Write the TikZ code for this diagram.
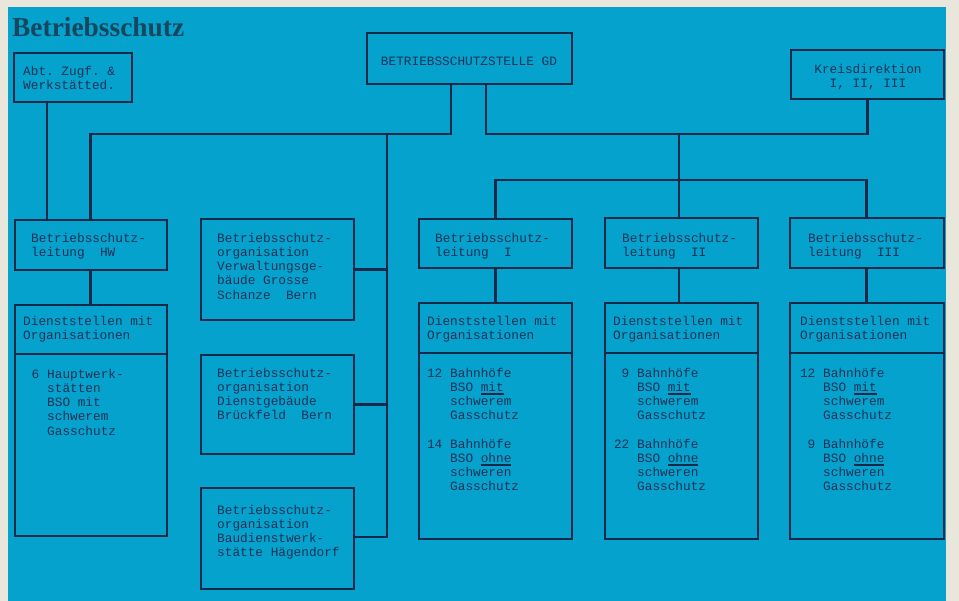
\documentclass[tikz,border=0pt]{standalone}
\usepackage{fontspec}
\newfontfamily\tw{Liberation Mono}
\newfontfamily\ttl{Liberation Serif}
\definecolor{bg}{HTML}{05A2CD}
\definecolor{paper}{HTML}{E9E6DC}
\definecolor{ln}{HTML}{172848}
\definecolor{tx}{HTML}{1A3256}
\definecolor{titlec}{HTML}{17475E}
\newcommand\myul[1]{\setbox0\hbox{#1}\rlap{\color{ln}\rule[-3.2bp]{\wd0}{1.3bp}}\box0}
\begin{document}
\begin{tikzpicture}[x=1bp,y=-1bp,
  box/.style={draw=ln, line width=1.7bp, inner sep=0pt, anchor=north west},
  conn/.style={draw=ln, line width=2.8bp},
  thin/.style={draw=ln, line width=1.7bp},
  txt/.style={font=\tw\frenchspacing\fontsize{12.8}{14.25}\selectfont, text=tx, inner sep=0pt, align=left, anchor=base west},
  num/.style={font=\tw\fontsize{12.8}{14.25}\selectfont, text=tx, inner sep=0pt, anchor=base east}]
\useasboundingbox (0,0) rectangle (959,601);
\fill[paper] (0,0) rectangle (959,601);
\fill[bg] (8,7) rectangle (946,601);

\node[anchor=base west, inner sep=0pt, font=\ttl\bfseries\fontsize{27.5}{30}\selectfont, text=titlec] (title) at (12,37) {Betriebsschutz};

% top row (text nodes are placed at the baseline of their last line)
\node[box, minimum width=118bp, minimum height=49bp] (abt) at (13,52) {};
\node[txt] (abtT) at (23,89.25) {Abt. Zugf. \&\\Werkstätted.};
\node[box, minimum width=205bp, minimum height=51bp] (gd) at (366,32) {};
\node[txt, anchor=base] (gdT) at (469,66) {BETRIEBSSCHUTZSTELLE GD};
\node[box, minimum width=153bp, minimum height=49bp] (kreis) at (790,49) {};
\node[txt, align=center, anchor=base] (kreisT) at (868,87.25) {Kreisdirektion\\I, II, III};

% left column
\node[box, minimum width=152bp, minimum height=50bp] (mw) at (14,219) {};
\node[txt] (mwT) at (31,256.25) {Betriebsschutz-\\leitung~~HW};
\node[box, minimum width=152bp, minimum height=231bp] (dmw) at (14,304) {};
\draw[thin] (dmw.west |- 0,354) -- (dmw.east |- 0,354);
\node[txt] (dmwH) at (23,339.25) {Dienststellen mit\\Organisationen};
\node[num] (dmwN) at (39.5,378) {6};
\node[txt] (dmwC) at (47,435) {Hauptwerk-\\stätten\\BSO mit\\schwerem\\Gasschutz};

% middle column
\node[box, minimum width=153bp, minimum height=101bp] (verw) at (200,218) {};
\node[txt] (verwT) at (217,299) {Betriebsschutz-\\organisation\\Verwaltungsge-\\bäude Grosse\\Schanze~~Bern};
\node[box, minimum width=153bp, minimum height=99bp] (bru) at (200,354) {};
\node[txt] (bruT) at (217,419.75) {Betriebsschutz-\\organisation\\Dienstgebäude\\Brückfeld~~Bern};
\node[box, minimum width=153bp, minimum height=101bp] (hag) at (200,487) {};
\node[txt] (hagT) at (217,556.75) {Betriebsschutz-\\organisation\\Baudienstwerk-\\stätte Hägendorf};

% Leitung I, II, III
\node[box, minimum width=153bp, minimum height=49bp] (l1) at (418,218) {};
\node[txt] (l1T) at (435,256.25) {Betriebsschutz-\\leitung~~I};
\node[box, minimum width=153bp, minimum height=50bp] (l2) at (604,217) {};
\node[txt] (l2T) at (622,256.25) {Betriebsschutz-\\leitung~~II};
\node[box, minimum width=154bp, minimum height=50bp] (l3) at (789,217) {};
\node[txt] (l3T) at (808,256.25) {Betriebsschutz-\\leitung~~III};

% Dienststellen I, II, III
\node[box, minimum width=153bp, minimum height=236bp] (d1) at (418,302) {};
\node[box, minimum width=153bp, minimum height=236bp] (d2) at (604,302) {};
\node[box, minimum width=154bp, minimum height=236bp] (d3) at (789,302) {};
\draw[thin] (d1.west |- 0,353) -- (d1.east |- 0,353);
\draw[thin] (d2.west |- 0,353) -- (d2.east |- 0,353);
\draw[thin] (d3.west |- 0,353) -- (d3.east |- 0,353);
\node[txt] (d1H) at (427,339.25) {Dienststellen mit\\Organisationen};
\node[txt] (d2H) at (613,339.25) {Dienststellen mit\\Organisationen};
\node[txt] (d3H) at (800,339.25) {Dienststellen mit\\Organisationen};

\node[num] (d1N1) at (442.5,377) {12};
\node[txt] (d1C1) at (450,419.75) {Bahnhöfe\\BSO \myul{mit}\\schwerem\\Gasschutz};
\node[num] (d1N2) at (442.5,448) {14};
\node[txt] (d1C2) at (450,490.75) {Bahnhöfe\\BSO \myul{ohne}\\schweren\\Gasschutz};

\node[num] (d2N1) at (629.5,377) {9};
\node[txt] (d2C1) at (637,419.75) {Bahnhöfe\\BSO \myul{mit}\\schwerem\\Gasschutz};
\node[num] (d2N2) at (629.5,448) {22};
\node[txt] (d2C2) at (637,490.75) {Bahnhöfe\\BSO \myul{ohne}\\schweren\\Gasschutz};

\node[num] (d3N1) at (815.5,377) {12};
\node[txt] (d3C1) at (823,419.75) {Bahnhöfe\\BSO \myul{mit}\\schwerem\\Gasschutz};
\node[num] (d3N2) at (815.5,448) {9};
\node[txt] (d3C2) at (823,490.75) {Bahnhöfe\\BSO \myul{ohne}\\schweren\\Gasschutz};

% connectors
\coordinate (jL) at (451,134);
\coordinate (jR) at (486,134);
\coordinate (jM) at (387,134);
\coordinate (jMb) at (387,537);
\coordinate (jC) at (679,134);
\coordinate (jC2) at (679,180);
\coordinate (jA) at (47,0);
\draw[thin] (abt.south -| jA) -- (mw.north -| jA);
\draw[conn] (gd.south -| jL) -- (jL) -| (mw.north);
\draw[conn] (jM) -- (jMb) -- (hag.east |- jMb);
\draw[conn] (verw.east) -- (verw.east -| jM);
\draw[conn] (bru.east) -- (bru.east -| jM);
\draw[conn] (gd.south -| jR) -- (jR) -| (kreis.south);
\draw[conn] (jC) -- (jC2);
\draw[conn] (l1.north) |- (jC2) -| (l3.north);
\draw[conn] (jC2) -- (l2.north -| jC2);
\draw[conn] (mw.south) -- (dmw.north);
\draw[conn] (l1.south) -- (d1.north);
\draw[conn] (l2.south -| jC2) -- (d2.north -| jC2);
\draw[conn] (l3.south) -- (d3.north);
\end{tikzpicture}
\end{document}
